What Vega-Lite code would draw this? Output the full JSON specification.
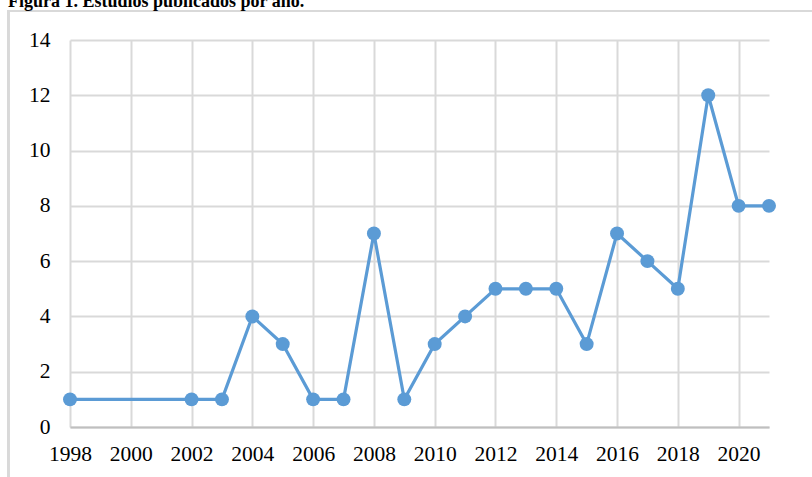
{
  "$schema": "https://vega.github.io/schema/vega-lite/v6.json",
  "width": 699,
  "height": 387,
  "autosize": {"type": "none"},
  "padding": {"left": 70, "top": 40, "right": 43, "bottom": 50},
  "background": "white",
  "title": {
    "text": "Figura 1. Estudios publicados por año.",
    "anchor": "start",
    "frame": "group",
    "orient": "top",
    "offset": 0,
    "dx": -62,
    "dy": 1,
    "font": "Liberation Serif",
    "fontSize": 18,
    "fontWeight": "bold",
    "color": "#000000"
  },
  "config": {
    "view": {"stroke": null},
    "axis": {
      "labelFont": "Liberation Serif",
      "labelFontSize": 21.5,
      "labelColor": "#000000",
      "gridColor": "#D9D9D9",
      "gridWidth": 2,
      "ticks": false,
      "title": null
    }
  },
  "data": {
    "values": [
      {"year": 1998, "n": 1},
      {"year": 2002, "n": 1},
      {"year": 2003, "n": 1},
      {"year": 2004, "n": 4},
      {"year": 2005, "n": 3},
      {"year": 2006, "n": 1},
      {"year": 2007, "n": 1},
      {"year": 2008, "n": 7},
      {"year": 2009, "n": 1},
      {"year": 2010, "n": 3},
      {"year": 2011, "n": 4},
      {"year": 2012, "n": 5},
      {"year": 2013, "n": 5},
      {"year": 2014, "n": 5},
      {"year": 2015, "n": 3},
      {"year": 2016, "n": 7},
      {"year": 2017, "n": 6},
      {"year": 2018, "n": 5},
      {"year": 2019, "n": 12},
      {"year": 2020, "n": 8},
      {"year": 2021, "n": 8}
    ]
  },
  "layer": [
    {
      "mark": {"type": "rect", "filled": false, "fillOpacity": 0, "color": "#D9D9D9", "stroke": "#D9D9D9", "strokeWidth": 2, "clip": false},
      "encoding": {
        "x": {"datum": 1995.98, "type": "quantitative"},
        "x2": {"datum": 2035},
        "y": {"datum": 15.05, "type": "quantitative"},
        "y2": {"datum": -5}
      }
    },
    {
      "mark": {"type": "line", "color": "#5B9BD5", "strokeWidth": 3.2, "point": {"filled": true, "size": 195, "color": "#5B9BD5", "opacity": 1}},
      "encoding": {
        "x": {
          "field": "year",
          "type": "quantitative",
          "scale": {"domain": [1998, 2021], "nice": false, "zero": false},
          "axis": {
            "values": [1998, 2000, 2002, 2004, 2006, 2008, 2010, 2012, 2014, 2016, 2018, 2020],
            "format": "d",
            "grid": true,
            "domainColor": "#BFBFBF",
            "domainWidth": 2,
            "labelPadding": 16,
            "labelFlush": false,
            "labelOverlap": false
          }
        },
        "y": {
          "field": "n",
          "type": "quantitative",
          "scale": {"domain": [0, 14], "nice": false},
          "axis": {
            "values": [0, 2, 4, 6, 8, 10, 12, 14],
            "grid": true,
            "domain": false,
            "labelPadding": 20
          }
        }
      }
    }
  ]
}
